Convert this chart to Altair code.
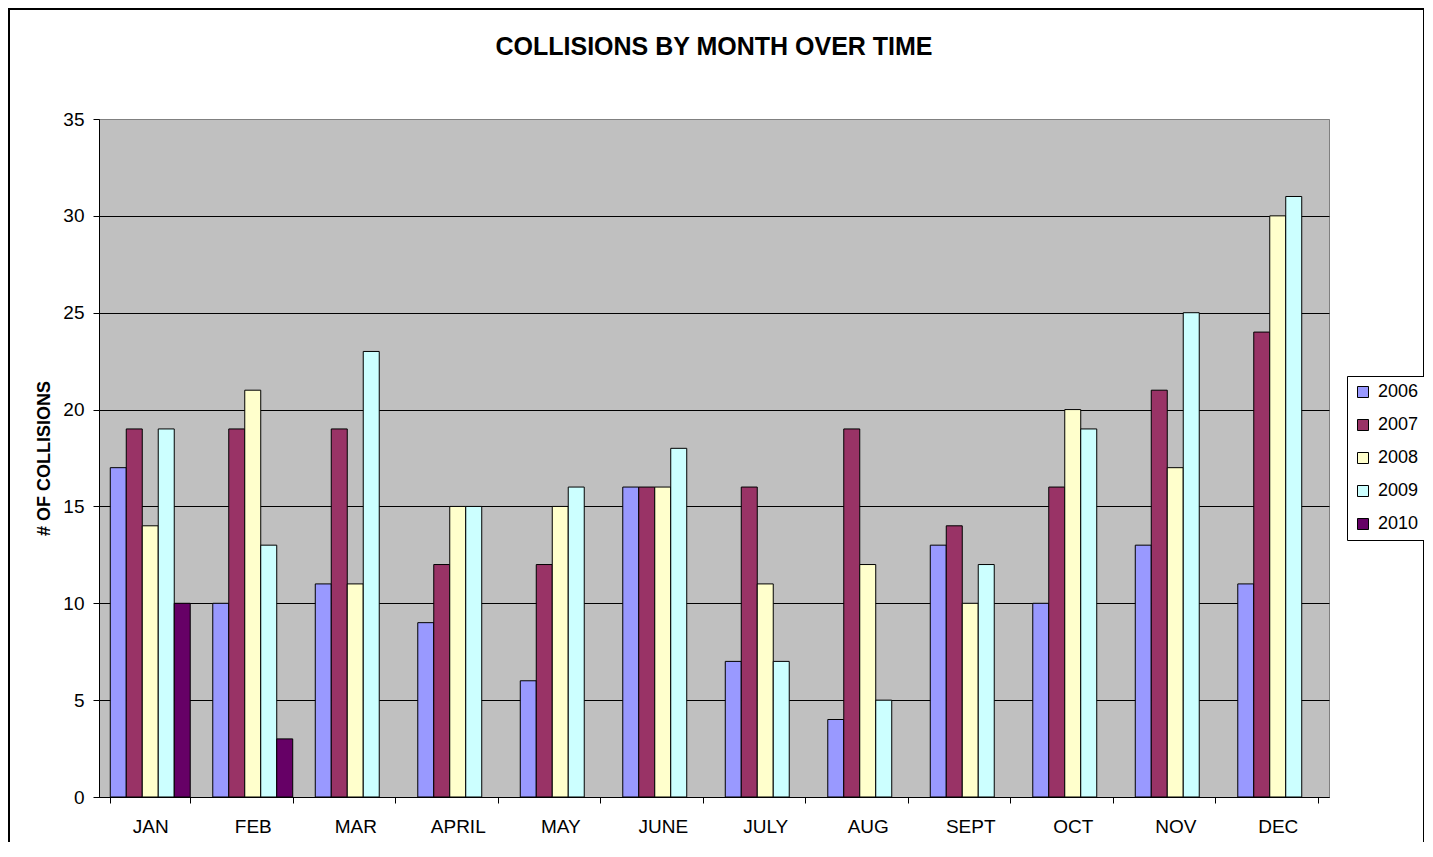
import altair as alt
import pandas as pd

months = ["JAN", "FEB", "MAR", "APRIL", "MAY", "JUNE", "JULY", "AUG", "SEPT", "OCT", "NOV", "DEC"]
years = ["2006", "2007", "2008", "2009", "2010"]
v2006 = [17, 10, 11, 9, 6, 16, 7, 4, 13, 10, 13, 11]
v2007 = [19, 19, 19, 12, 12, 16, 16, 19, 14, 16, 21, 24]
v2008 = [14, 21, 11, 15, 15, 16, 11, 12, 10, 20, 17, 30]
v2009 = [19, 13, 23, 15, 16, 18, 7, 5, 12, 19, 25, 31]
v2010 = [10, 3, None, None, None, None, None, None, None, None, None, None]
colors = ["#9999FF", "#993366", "#FFFFCC", "#CCFFFF", "#660066"]
y_ticks = [0, 5, 10, 15, 20, 25, 30, 35]

series = [v2006, v2007, v2008, v2009, v2010]
rows = []
for yr, vals in zip(years, series):
    for m, v in zip(months, vals):
        if v is not None:
            rows.append({"month": m, "year": yr, "value": v})
df = pd.DataFrame(rows)

FONT = "Liberation Sans"

bars = alt.Chart(df).mark_bar(stroke="black", strokeWidth=1).encode(
    x=alt.X(
        "month:N",
        sort=months,
        scale=alt.Scale(domain=months, paddingInner=0.22, paddingOuter=0.11),
        axis=alt.Axis(
            title=None, labelAngle=0, tickBand="extent", tickSize=6,
            tickColor="black", domainColor="black", labelPadding=14,
            labelFontSize=19, grid=False,
        ),
    ),
    xOffset=alt.XOffset("year:N", scale=alt.Scale(domain=years, paddingInner=0, paddingOuter=0)),
    y=alt.Y(
        "value:Q",
        scale=alt.Scale(domain=[0, 35], nice=False),
        axis=alt.Axis(
            title="# OF COLLISIONS", values=y_ticks, tickSize=6, tickColor="black",
            domainColor="black", labelPadding=9, labelFontSize=19,
            grid=True,
            gridColor=alt.condition("datum.value == 35", alt.value("#808080"), alt.value("black")),
            gridWidth=1,
            titleFontSize=18, titleFontWeight="bold", titleX=-55, titleY=339,
            titleAngle=270, titleAlign="center", titleBaseline="middle",
        ),
    ),
    color=alt.Color(
        "year:N",
        scale=alt.Scale(domain=years, range=colors),
        legend=alt.Legend(
            orient="none", legendX=1248, legendY=257, title=None,
            symbolType="square", symbolSize=121, symbolStrokeColor="black",
            symbolStrokeWidth=1, symbolOpacity=1, labelFontSize=18, labelFont=FONT,
            labelColor="black", rowPadding=15, padding=7, strokeColor="black",
            fillColor="white", labelOffset=6,
        ),
    ),
)

frame = alt.Chart(alt.Data(values=[{}])).mark_rect(
    fill=None, stroke="black", strokeWidth=2
).encode(
    x=alt.value(-90), x2=alt.value(1325), y=alt.value(-110), y2=alt.value(760)
)

chart = alt.layer(bars, frame).properties(
    width=1230,
    height=678,
    background="white",
    title=alt.Title(
        "COLLISIONS BY MONTH OVER TIME", fontSize=25, fontWeight="bold",
        font=FONT, color="black", anchor="middle", offset=-52,
    ),
    autosize=alt.AutoSizeParams(type="none"),
    padding={"left": 91, "top": 111, "right": 95, "bottom": 45},
).configure_view(
    fill="#C0C0C0", stroke="#808080", strokeWidth=1
).configure_axis(
    labelFont=FONT, titleFont=FONT, labelColor="black", titleColor="black",
)

chart.save("out.html", embed_options={"renderer": "svg", "actions": False})
